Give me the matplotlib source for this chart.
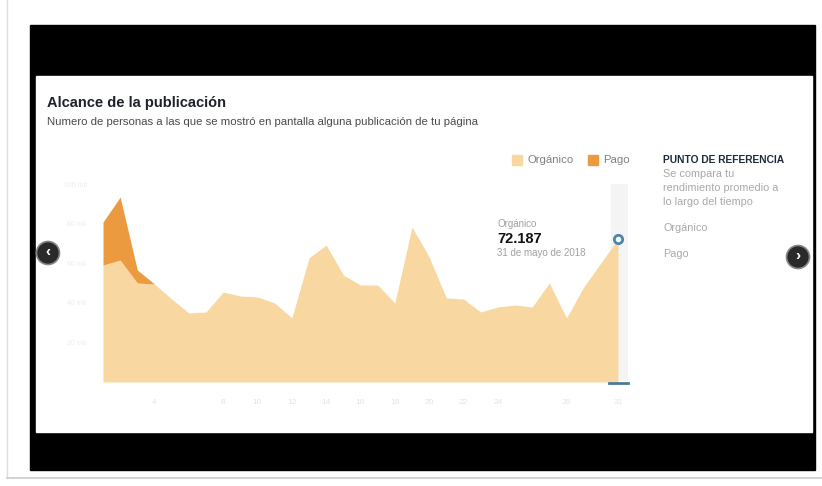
import numpy as np
import matplotlib.pyplot as plt
from matplotlib.patches import Rectangle, Circle

plt.rcParams['font.family'] = ['Liberation Sans', 'DejaVu Sans']

# daily reach, 1-31 May 2018
days = np.arange(1, 32)
organico = [59085, 61610, 50000, 49490, 41900, 34850, 35350, 45450, 43430, 42930,
            39900, 32320, 62620, 69190, 54040, 48990, 48990, 39900, 78280, 63130,
            42420, 41920, 35350, 37880, 38890, 37880, 50000, 32320, 47980, 60100,
            72187]
pago = [21700, 31800, 6570] + [0] * 28
tick_days = [4, 8, 10, 12, 14, 16, 18, 20, 22, 24, 28, 31]
y_ticks = [20000, 40000, 60000, 80000, 100000]

W, H = 822, 486
fig = plt.figure(figsize=(W / 100, H / 100), dpi=100)

# page / frame drawn in pixel coordinates
bg = fig.add_axes([0, 0, 1, 1])
bg.set_xlim(0, W)
bg.set_ylim(H, 0)
bg.axis('off')
bg.add_patch(Rectangle((30, 25), 785, 445, color='black'))
bg.add_patch(Rectangle((36, 76), 776, 356, color='white'))
bg.plot([7, 7], [0, 478], color='#dddddd', lw=1)
bg.plot([7, 822], [478, 478], color='#cccccc', lw=1.2)

bg.text(47, 103, 'Alcance de la publicación', fontsize=10.5, fontweight='bold',
        color='#1d2129', va='center')
bg.text(47, 122, 'Numero de personas a las que se mostró en pantalla alguna publicación de tu página',
        fontsize=8.2, color='#4a4a4a', va='center')

# legend
bg.add_patch(Rectangle((512, 155), 10, 10, color='#f8d7a1'))
bg.text(527, 160, 'Orgánico', fontsize=8.2, color='#808080', va='center')
bg.add_patch(Rectangle((588, 155), 10, 10, color='#ec9a3f'))
bg.text(603, 160, 'Pago', fontsize=8.2, color='#808080', va='center')

# reference panel
bg.text(663, 160, 'PUNTO DE REFERENCIA', fontsize=7.4, fontweight='bold',
        color='#1c2b3a', va='center')
for yy, s in [(174, 'Se compara tu'), (188, 'rendimiento promedio a'),
              (202, 'lo largo del tiempo'), (228, 'Orgánico'), (254, 'Pago')]:
    bg.text(663, yy, s, fontsize=7.8, color='#a8a8a8', va='center')

# tooltip
bg.text(497, 224, 'Orgánico', fontsize=7, color='#a0a0a0', va='center')
bg.text(497, 239, '72.187', fontsize=10.5, fontweight='bold', color='#111111', va='center')
bg.text(497, 253, '31 de mayo de 2018', fontsize=7, color='#a0a0a0', va='center')

# carousel arrows
for cx, cy, s in [(48, 253, '‹'), (798, 257, '›')]:
    bg.add_patch(Circle((cx, cy), 11.5, facecolor='#2a2a2a', edgecolor='#888888', lw=1.2, zorder=5))
    bg.text(cx, cy - 1, s, fontsize=11, fontweight='bold', color='white',
            ha='center', va='center', zorder=6)

# chart
x0, x30 = 103, 618
step = (x30 - x0) / 30
right = x30 + 0.6 * step
base, top = 382, 184
ax = fig.add_axes([x0 / W, 1 - base / H, (right - x0) / W, (base - top) / H])
x = np.arange(len(days))
org = np.array(organico)
tot = org + np.array(pago)
ax.axvspan(29.6, 30.6, ymin=0.01, color='#f4f4f4', zorder=0)
ax.fill_between(x, 0, org, color='#f8d7a1', lw=0, zorder=2)
ax.fill_between(x[:4], org[:4], tot[:4], color='#ec9a3f', lw=0, zorder=2)
ax.plot(30, organico[-1], 'o', ms=6, mfc='white', mec='#4a86b0', mew=2, zorder=4)
ax.plot([29.5, 30.6], [-300, -300], color='#4a7a9a', lw=2, clip_on=False, zorder=4)
ax.set_xlim(0, 30.6)
ax.set_ylim(0, 100000)
ax.set_xticks([d - 1 for d in tick_days])
ax.set_xticklabels([str(d) for d in tick_days], fontsize=6, color='#e4e4e4')
ax.set_yticks(y_ticks)
ax.set_yticklabels([f'{v // 1000} mil' for v in y_ticks], fontsize=5, color='#ececec')
ax.tick_params(length=0, pad=12)
for sp in ax.spines.values():
    sp.set_visible(False)
ax.patch.set_alpha(0)

fig.savefig('out.png', dpi=100)
